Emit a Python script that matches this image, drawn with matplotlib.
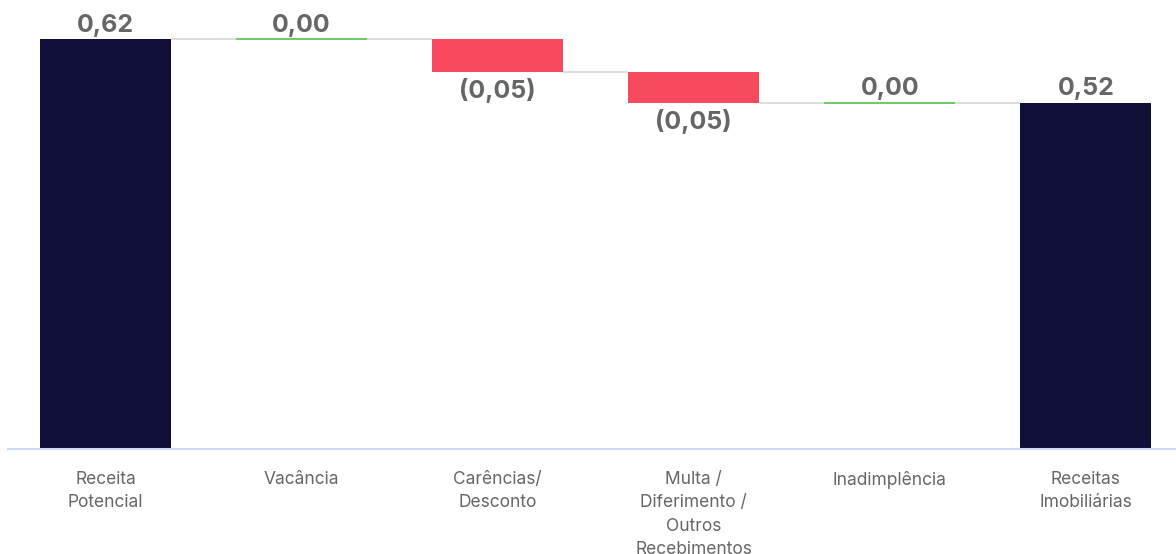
import matplotlib.pyplot as plt

categories = ["Receita\nPotencial", "Vacância", "Carências/\nDesconto",
              "Multa /\nDiferimento /\nOutros\nRecebimentos", "Inadimplência",
              "Receitas\nImobiliárias"]
values = [0.62, 0.00, -0.05, -0.046, 0.00, 0.524]
is_total = [True, False, False, False, False, True]

navy = "#0f0f38"
red = "#f84a5f"
green = "#4cc44c"
grey_txt = "#666666"

fig = plt.figure(figsize=(11.76, 5.54), dpi=100)
ax = fig.add_axes([7.5 / 1176, 105 / 554, 1168.5 / 1176, 449 / 554])

width = 0.668
level = 0.0
tops = []
for i, (v, tot) in enumerate(zip(values, is_total)):
    if tot:
        ax.bar(i, v, width=width, color=navy, zorder=2)
        level = v
        ax.text(i, v + 0.004, f"{v:.2f}".replace(".", ","), ha="center", va="bottom",
                fontsize=18, fontweight="bold", color=grey_txt, family="Inter")
    elif v == 0:
        ax.hlines(level, i - width / 2, i + width / 2, color=green, lw=1.2, zorder=3)
        ax.text(i, level + 0.004, f"{v:.2f}".replace(".", ","), ha="center", va="bottom",
                fontsize=18, fontweight="bold", color=grey_txt, family="Inter")
    else:
        ax.bar(i, v, bottom=level, width=width, color=red, zorder=2)
        new = level + v
        ax.text(i, new - 0.009, "(" + f"{abs(v):.2f}".replace(".", ",") + ")", ha="center",
                va="top", fontsize=18, fontweight="bold", color=grey_txt, family="Inter")
        level = new
    tops.append(level)

# connectors between bars
for i in range(len(values) - 1):
    ax.hlines(tops[i], i + width / 2, i + 1 - width / 2, color="#dddddd", lw=1.5, zorder=1)

ax.set_xlim(-0.5, 5.46)
ax.set_ylim(0, 449 / 661)
ax.set_xticks(range(len(categories)))
ax.set_xticklabels(categories, fontsize=12.5, color=grey_txt, family="Inter", linespacing=1.48)
ax.tick_params(axis="x", length=0, pad=16)
ax.set_yticks([])
for s in ["top", "right", "left"]:
    ax.spines[s].set_visible(False)
ax.spines["bottom"].set_color("#cdd6f6")
ax.spines["bottom"].set_linewidth(1.5)

fig.savefig("out.png", dpi=100)
